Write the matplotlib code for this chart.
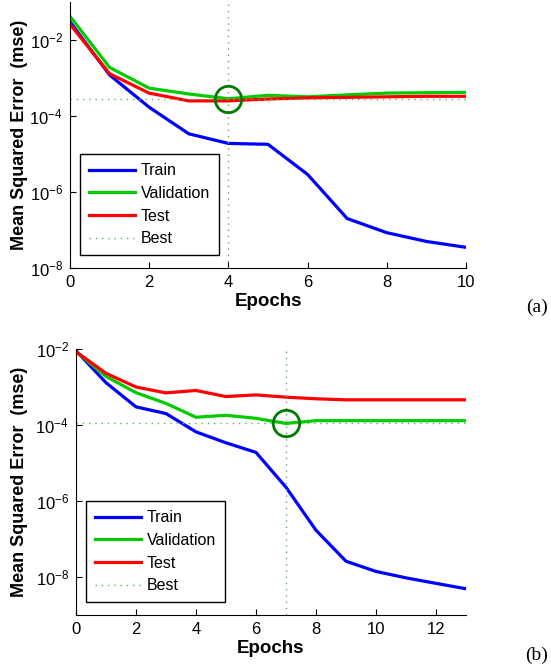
import matplotlib
matplotlib.use('Agg')
import matplotlib.pyplot as plt
from matplotlib.ticker import LogFormatterMathtext

plt.rcParams['font.family'] = ['Liberation Sans', 'DejaVu Sans']
plt.rcParams['mathtext.fontset'] = 'custom'
plt.rcParams['mathtext.rm'] = 'Liberation Sans'
plt.rcParams['mathtext.it'] = 'Liberation Sans:italic'
plt.rcParams['mathtext.bf'] = 'Liberation Sans:bold'

# panel (a)
epochs_a = list(range(11))
train_a = [3.0e-2, 1.2e-3, 1.7e-4, 3.4e-5, 1.9e-5, 1.8e-5, 2.9e-6, 2.0e-7, 8.5e-8, 5.0e-8, 3.5e-8]
val_a = [4.2e-2, 1.9e-3, 5.4e-4, 3.8e-4, 2.85e-4, 3.5e-4, 3.2e-4, 3.6e-4, 4.0e-4, 4.1e-4, 4.2e-4]
test_a = [2.6e-2, 1.3e-3, 4.0e-4, 2.5e-4, 2.5e-4, 2.8e-4, 3.0e-4, 3.1e-4, 3.2e-4, 3.3e-4, 3.3e-4]
best_a = 4

# panel (b)
epochs_b = list(range(14))
train_b = [9.0e-3, 1.3e-3, 3.0e-4, 2.0e-4, 6.6e-5, 3.4e-5, 1.9e-5, 2.3e-6, 1.7e-7, 2.6e-8, 1.4e-8, 9.5e-9, 6.8e-9, 4.9e-9]
val_b = [8.5e-3, 1.9e-3, 7.1e-4, 3.7e-4, 1.6e-4, 1.8e-4, 1.5e-4, 1.1e-4, 1.3e-4, 1.3e-4, 1.3e-4, 1.3e-4, 1.3e-4, 1.3e-4]
test_b = [8.5e-3, 2.3e-3, 1.0e-3, 7.0e-4, 8.1e-4, 5.6e-4, 6.2e-4, 5.4e-4, 4.9e-4, 4.6e-4, 4.6e-4, 4.6e-4, 4.6e-4, 4.6e-4]
best_b = 7

fig = plt.figure(figsize=(5.51, 6.70), dpi=100)
ax_a = fig.add_axes([70/551, 402/670, 396/551, 266/670])
ax_b = fig.add_axes([76/551, 55/670, 390/551, 266/670])

best_col = '#5cb25c'


def draw(ax, ep, tr, va, te, best, ylim, xticks, tag):
    ax.semilogy(ep, tr, color='#0000ff', lw=2.3, label='Train')
    ax.semilogy(ep, va, color='#00cc00', lw=2.3, label='Validation')
    ax.semilogy(ep, te, color='#ff0000', lw=2.3, label='Test')
    bv = va[best]
    ax.plot([ep[0], ep[-1]], [bv, bv], color=best_col, lw=1, ls=(0, (1, 3.5)), label='Best')
    ax.plot([best, best], ylim, color=best_col, lw=1, ls=(0, (1, 3.5)))
    ax.plot([best], [bv], 'o', ms=19, mfc='none', mec='#007a00', mew=2)
    ax.set_xlim(ep[0], ep[-1])
    ax.set_ylim(*ylim)
    ax.set_xticks(xticks)
    ax.set_yticks([1e-2, 1e-4, 1e-6, 1e-8])
    ax.yaxis.set_major_formatter(LogFormatterMathtext())
    ax.minorticks_off()
    ax.tick_params(direction='in', labelsize=12, length=4, pad=5)
    ax.spines['top'].set_visible(False)
    ax.spines['right'].set_visible(False)
    bbox = ax.get_position()
    w = bbox.width * 551
    h = bbox.height * 670
    ax.set_xlabel('Epochs', fontsize=13.5, fontweight='bold', labelpad=2)
    ax.set_ylabel('Mean Squared Error  (mse)', fontsize=13, fontweight='bold')
    ax.yaxis.set_label_coords((28 - bbox.x0 * 551) / w, 0.5)
    leg = ax.legend(loc='lower left', fontsize=11.5, handlelength=2.9, handletextpad=0.37,
                    fancybox=False, edgecolor='black', framealpha=1, borderpad=0.55,
                    labelspacing=0.48, borderaxespad=0,
                    bbox_to_anchor=(10 / w, 13 / h))
    leg.get_frame().set_linewidth(1)
    fig.text(537/551, tag[1], tag[0], fontsize=14, family='Liberation Serif',
             ha='center', va='center')


draw(ax_a, epochs_a, train_a, val_a, test_a, best_a, (1e-8, 1e-1), range(0, 11, 2), ('(a)', 1 - 307/670))
draw(ax_b, epochs_b, train_b, val_b, test_b, best_b, (1e-9, 1e-2), range(0, 13, 2), ('(b)', 1 - 655/670))

fig.savefig('out.png', dpi=100)
